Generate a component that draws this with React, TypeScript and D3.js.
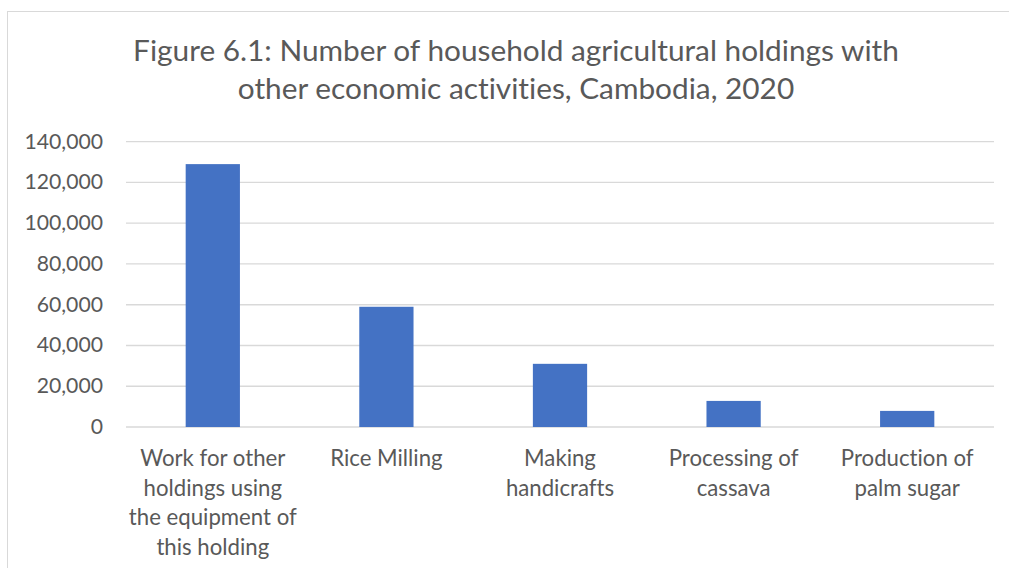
import React from "react";
import * as d3 from "d3";

const categories: string[][] = [
  ["Work for other", "holdings using", "the equipment of", "this holding"],
  ["Rice Milling"],
  ["Making", "handicrafts"],
  ["Processing of", "cassava"],
  ["Production of", "palm sugar"],
];
const values: number[] = [129000, 59000, 31000, 12800, 7900];
const yTicks: number[] = [0, 20000, 40000, 60000, 80000, 100000, 120000, 140000];
const titleLines: string[] = [
  "Figure 6.1: Number of household agricultural holdings with",
  "other economic activities, Cambodia, 2020",
];

const W = 1009;
const H = 568;
const FONT = "Lato, 'Open Sans', sans-serif";
const TXT = "#595959";

export default function App() {
  const x0 = 126, x1 = 994, yTop = 141.7, yBot = 427;
  const x = d3.scaleBand<number>().domain(values.map((_, i) => i)).range([x0, x1]).paddingInner(0.6875).paddingOuter(0.34375);
  const y = d3.scaleLinear().domain([0, 140000]).range([yBot, yTop]);
  const fmt = d3.format(",");
  const common = { fontFamily: FONT, fill: TXT, style: { fontVariantLigatures: "none" as const } };
  return (
    <svg width={W} height={H} style={{ position: "absolute", left: 0, top: 0, display: "block" }}>
      <rect x={0} y={0} width={W} height={H} fill="#fff" />
      <rect x={7.5} y={11.5} width={1020} height={600} fill="#fff" stroke="#d9d9d9" strokeWidth={1} />
      {titleLines.map((t, i) => (
        <text key={i} x={516} y={61 + i * 38} textAnchor="middle" fontSize={29.8} {...common}>{t}</text>
      ))}
      {yTicks.map((t) => (
        <g key={t}>
          <line x1={x0} x2={x1} y1={y(t)} y2={y(t)} stroke="#d9d9d9" strokeWidth={1.3} />
          <text x={103} y={y(t) + 7} textAnchor="end" fontSize={21.2} {...common}>{fmt(t)}</text>
        </g>
      ))}
      {values.map((v, i) => (
        <rect key={i} x={x(i)} y={y(v)} width={x.bandwidth()} height={yBot - y(v)} fill="#4472c4" />
      ))}
      {categories.map((lines, i) => (
        <text key={i} textAnchor="middle" fontSize={22.2} {...common}>
          {lines.map((l, j) => (
            <tspan key={j} x={(x(i) as number) + x.bandwidth() / 2} y={466 + j * 29.5}>{l}</tspan>
          ))}
        </text>
      ))}
    </svg>
  );
}
